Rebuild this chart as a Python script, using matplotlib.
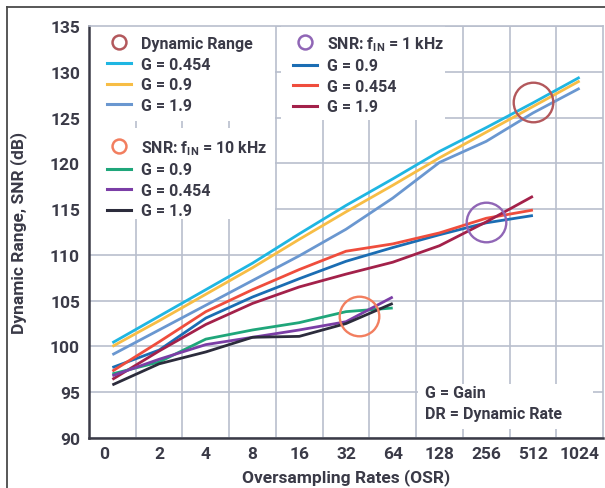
import matplotlib
matplotlib.use("Agg")
import matplotlib.pyplot as plt
import matplotlib.transforms as mtransforms
from matplotlib.lines import Line2D
from matplotlib.patches import Rectangle

plt.rcParams['font.family'] = ['Roboto', 'DejaVu Sans']
plt.rcParams['font.weight'] = 'bold'
plt.rcParams['mathtext.fontset'] = 'custom'
plt.rcParams['mathtext.rm'] = 'Roboto:bold'
plt.rcParams['mathtext.it'] = 'Roboto:bold'
plt.rcParams['mathtext.bf'] = 'Roboto:bold'

# ---------------- data ----------------
osr_labels = ["0", "2", "4", "8", "16", "32", "64", "128", "256", "512", "1024"]

dr_g0454 = [100.4, 103.3, 106.2, 109.1, 112.3, 115.4, 118.3, 121.3, 123.9, 126.6, 129.4]
dr_g09 = [100.0, 102.8, 105.7, 108.6, 111.7, 114.7, 117.6, 120.6, 123.4, 126.2, 129.0]
dr_g19 = [99.1, 101.8, 104.5, 107.2, 109.9, 112.8, 116.2, 120.1, 122.4, 125.5, 128.2]

snr1k_g09 = [97.7, 99.6, 103.1, 105.4, 107.4, 109.3, 110.8, 112.2, 113.5, 114.3]
snr1k_g0454 = [97.3, 100.5, 103.8, 106.2, 108.4, 110.4, 111.2, 112.4, 114.0, 114.9]
snr1k_g19 = [96.4, 99.5, 102.4, 104.7, 106.5, 107.9, 109.2, 111.0, 113.6, 116.4]

snr10k_g09 = [97.0, 98.3, 100.8, 101.8, 102.6, 103.8, 104.2]
snr10k_g0454 = [96.8, 98.6, 100.2, 101.0, 101.8, 102.7, 105.4]
snr10k_g19 = [95.8, 98.1, 99.4, 101.0, 101.1, 102.5, 104.7]

# highlight circles (x index, dB)
circle_dr = (9.0, 126.7)
circle_snr1k = (8.0, 113.6)
circle_snr10k = (5.28, 103.35)

y_ticks = [90, 95, 100, 105, 110, 115, 120, 125, 130, 135]

# ---------------- style ----------------
TXT = '#3a3a47'
GRID = '#b9bfcd'
c_cyan = '#1fb6e2'
c_yellow = '#f7bd45'
c_steel = '#6a97d0'
c_blue = '#1b6db3'
c_red = '#ef4d3d'
c_crimson = '#a3214a'
c_green = '#1fa67a'
c_purple = '#7b3ea6'
c_black = '#2c2c3c'
c_circ_dr = '#b3585c'
c_circ_1k = '#9066b6'
c_circ_10k = '#f27e5f'

W, H = 605, 489
fig = plt.figure(figsize=(W / 100, H / 100), dpi=100)
ax_l, ax_r, ax_t, ax_b = 89, 603, 27, 439
ax = fig.add_axes([ax_l / W, (H - ax_b) / H, (ax_r - ax_l) / W, (ax_b - ax_t) / H])

def fx(px):
    return (px - ax_l) / (ax_r - ax_l)

def fy(py):
    return (ax_b - py) / (ax_b - ax_t)

LW = 2.0
series = [
    (dr_g0454, c_cyan), (dr_g09, c_yellow), (dr_g19, c_steel),
    (snr1k_g09, c_blue), (snr1k_g0454, c_red), (snr1k_g19, c_crimson),
    (snr10k_g09, c_green), (snr10k_g0454, c_purple), (snr10k_g19, c_black),
]
for vals, col in series:
    ax.plot(range(len(vals)), vals, color=col, lw=LW, zorder=3,
            solid_capstyle='butt', solid_joinstyle='round')

for (cx, cy), col in [(circle_dr, c_circ_dr), (circle_snr1k, c_circ_1k), (circle_snr10k, c_circ_10k)]:
    ax.plot([cx], [cy], marker='o', ms=28.5, mfc='none', mec=col, mew=1.7, zorder=5)

ax.set_xlim(-0.5, len(osr_labels) - 0.5)
ax.set_ylim(90, 135)
ax.set_xticks(range(len(osr_labels)))
ax.set_xticklabels(osr_labels, fontweight='bold')
ax.set_xticks([i + 0.5 for i in range(len(osr_labels) - 1)], minor=True)
ax.set_yticks(y_ticks)
ax.set_yticklabels([str(v) for v in y_ticks], fontweight='bold')
ax.tick_params(axis='both', which='both', length=0, colors=TXT, labelsize=12.5)
ax.tick_params(axis='y', pad=6.5)
ax.tick_params(axis='x', pad=6)
ax.grid(True, which='minor', axis='x', color=GRID, lw=1.2, zorder=0)
ax.grid(True, which='major', axis='y', color=GRID, lw=1.2, zorder=0)
ax.grid(False, which='major', axis='x')
ax.set_axisbelow(True)

# first x label sits slightly left of its cell centre in the reference
first_lab = ax.get_xticklabels()[0]
first_lab.set_transform(first_lab.get_transform() +
                        mtransforms.ScaledTranslation(-8 / 100, 0, fig.dpi_scale_trans))

for s in ['left', 'bottom']:
    ax.spines[s].set_color('#3a3a46')
    ax.spines[s].set_linewidth(1.8)
for s in ['top', 'right']:
    ax.spines[s].set_color(GRID)
    ax.spines[s].set_linewidth(1.2)

ax.set_xlabel('Oversampling Rates (OSR)', fontsize=12.5, color=TXT, fontweight='bold')
ax.set_ylabel('Dynamic Range, SNR (dB)', fontsize=12.5, color=TXT, fontweight='bold')
ax.xaxis.set_label_coords(0.5, fy(469))
ax.yaxis.set_label_coords(fx(27), 0.5)

# white backgrounds behind legends / note
for (x0, y0, x1, y1) in [(89, 27, 275, 122), (89, 129, 275, 220), (281, 27, 445, 121), (418, 385, 593, 430)]:
    ax.add_patch(Rectangle((fx(x0), fy(y1)), fx(x1) - fx(x0), fy(y0) - fy(y1),
                           transform=ax.transAxes, facecolor='white', edgecolor='none', zorder=1))

def circ_handle(col):
    return Line2D([], [], ls='none', marker='o', ms=10, mfc='none', mec=col, mew=1.8)

def line_handle(col):
    return Line2D([], [], color=col, lw=2.2)

leg_kw = dict(loc='upper left', frameon=False, fontsize=11.5, borderpad=0, borderaxespad=0,
              handlelength=1.5, handletextpad=0.65, labelspacing=0.35, labelcolor=TXT)

leg1 = ax.legend([circ_handle(c_circ_dr), line_handle(c_cyan), line_handle(c_yellow), line_handle(c_steel)],
                 ['Dynamic Range', 'G = 0.454', 'G = 0.9', 'G = 1.9'],
                 bbox_to_anchor=(fx(107), fy(37)), **leg_kw)
ax.add_artist(leg1)
leg2 = ax.legend([circ_handle(c_circ_10k), line_handle(c_green), line_handle(c_purple), line_handle(c_black)],
                 [r'SNR: f$_{\mathrm{IN}}$ = 10 kHz', 'G = 0.9', 'G = 0.454', 'G = 1.9'],
                 bbox_to_anchor=(fx(107), fy(139)), **leg_kw)
ax.add_artist(leg2)
leg3 = ax.legend([circ_handle(c_circ_1k), line_handle(c_blue), line_handle(c_red), line_handle(c_crimson)],
                 [r'SNR: f$_{\mathrm{IN}}$ = 1 kHz', 'G = 0.9', 'G = 0.454', 'G = 1.9'],
                 bbox_to_anchor=(fx(293), fy(35)), **leg_kw)
for lg in (leg1, leg2, leg3):
    lg.set_zorder(6)

ax.text(fx(425), fy(404), 'G = Gain\nDR = Dynamic Rate', transform=ax.transAxes,
        fontsize=11.5, color=TXT, va='center', ha='left', linespacing=1.55, zorder=6)

# outer frame
fig.add_artist(Line2D([7 / W, 7 / W], [0, 1 - 8 / H], color='#4a4a4a', lw=1.3))
fig.add_artist(Line2D([7 / W, 1], [1 - 8 / H, 1 - 8 / H], color='#4a4a4a', lw=1.3))

fig.savefig('out.png', dpi=100, facecolor='white')
